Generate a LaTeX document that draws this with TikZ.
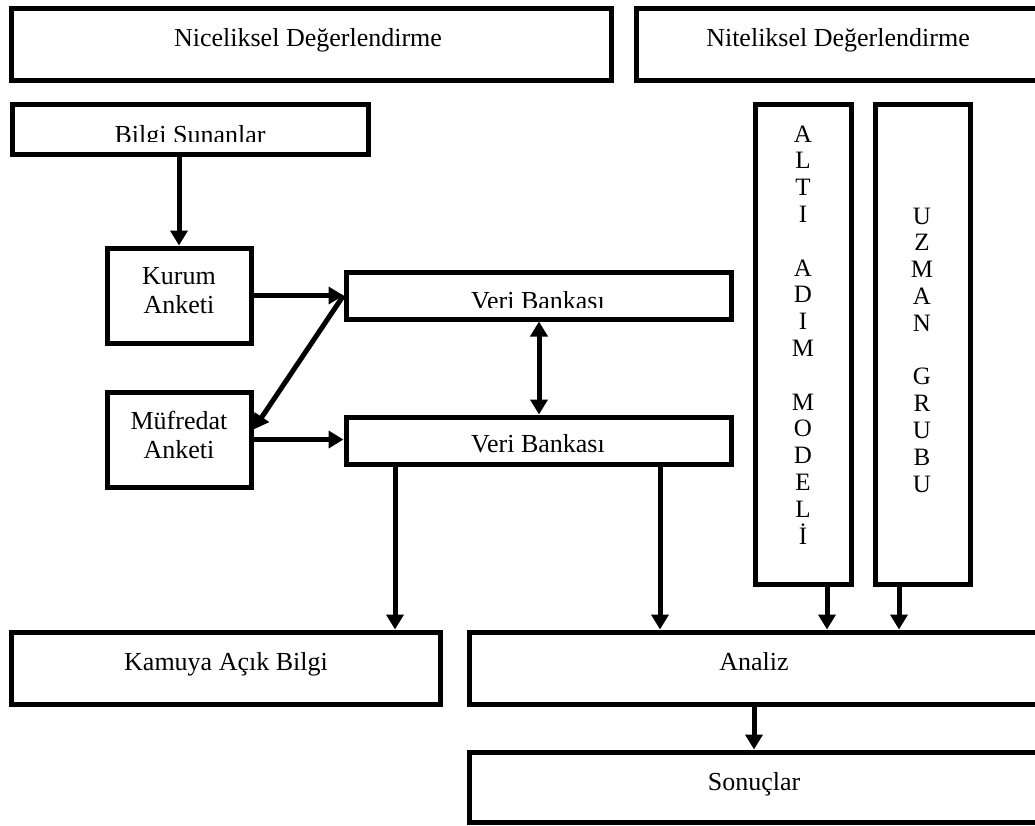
\documentclass[tikz,border=0pt]{standalone}
\usepackage{fontspec}
\setmainfont{Liberation Serif}
\usetikzlibrary{arrows.meta}
\tikzset{
  box/.style={draw=black, line width=5pt, inner sep=0pt, fill=none},
  txt/.style={inner sep=0pt, anchor=base, align=center, font=\fontsize{26pt}{29pt}\selectfont},
  vtxt/.style={inner sep=0pt, anchor=base, align=center, font=\fontsize{25pt}{26.8pt}\selectfont},
  arr/.style={line width=5pt, -{Triangle[length=15pt,width=17pt]}},
  darr/.style={line width=5pt, {Triangle[length=15pt,width=17pt]}-{Triangle[length=15pt,width=17pt]}}
}
\begin{document}
\begin{tikzpicture}[x=1pt,y=-1pt]
\useasboundingbox (0,0) rectangle (1035,825);
\clip (0,0) rectangle (1035,825);
\fill[white] (0,0) rectangle (1035,825);
% boxes
\node[box, minimum width=600pt, minimum height=72pt] (nic) at (311,44) {};
\node[box, minimum width=414pt, minimum height=72pt] (nit) at (843,44) {};
\node[box, minimum width=356pt, minimum height=50pt] (bilgi) at (190,129) {};
\node[box, minimum width=144pt, minimum height=95pt] (kurum) at (179,295.5) {};
\node[box, minimum width=144pt, minimum height=95pt] (muf) at (179,439.5) {};
\node[box, minimum width=385pt, minimum height=47pt] (vb1) at (538.5,295.5) {};
\node[box, minimum width=385pt, minimum height=47pt] (vb2) at (538.5,440.5) {};
\node[box, minimum width=96pt, minimum height=480pt] (alti) at (803,344) {};
\node[box, minimum width=95pt, minimum height=480pt] (uzman) at (922.5,344) {};
\node[box, minimum width=429pt, minimum height=72pt] (kam) at (225.5,668) {};
\node[box, minimum width=581pt, minimum height=72pt] (analiz) at (759.5,668) {};
\node[box, minimum width=581pt, minimum height=70pt] (sonuc) at (759.5,787) {};
% texts (anchor=base of a multi-line node is the baseline of its last line)
\node[txt] (tnic) at (308,46) {Niceliksel Değerlendirme};
\node[txt] (tnit) at (838,46) {Niteliksel Değerlendirme};
\begin{scope}
  \clip (14,106) rectangle (366,141);
  \node[txt] (tbilgi) at (190,143) {Bilgi Sunanlar};
\end{scope}
\node[txt] (tkurum) at (179,313) {Kurum\\Anketi};
\node[txt] (tmuf) at (179,458) {Müfredat\\Anketi};
\begin{scope}
  \clip (348,274) rectangle (729,307);
  \node[txt] (tvb1) at (538,309) {Veri Bankası};
\end{scope}
\node[txt] (tvb2) at (538,452) {Veri Bankası};
\node[vtxt] (talti) at (803,544) {A\\L\\T\\I\\\mbox{}\\A\\D\\I\\M\\\mbox{}\\M\\O\\D\\E\\L\\İ};
\node[vtxt] (tuzman) at (922,492) {U\\Z\\M\\A\\N\\\mbox{}\\G\\R\\U\\B\\U};
\node[txt] (tkam) at (226,670) {Kamuya Açık Bilgi};
\node[txt] (tanaliz) at (754,670) {Analiz};
\node[txt] (tsonuc) at (754,790) {Sonuçlar};
% connectors
\draw[arr] (bilgi.south -| kurum.north) -- (kurum.north);
\draw[arr] (kurum.east) -- (kurum.east -| vb1.west);
\draw[arr] (vb1.west) -- ([yshift=10pt]muf.east);
\draw[arr] (muf.east) -- (muf.east -| vb2.west);
\draw[darr] (vb1.south -| 539,0) -- (vb2.north -| 539,0);
\draw[arr] (vb2.south -| 395,0) -- (kam.north -| 395,0);
\draw[arr] (vb2.south -| 660,0) -- (analiz.north -| 660,0);
\draw[arr] (alti.south -| 827,0) -- (analiz.north -| 827,0);
\draw[arr] (uzman.south -| 899,0) -- (analiz.north -| 899,0);
\draw[arr] (analiz.south -| 754,0) -- (sonuc.north -| 754,0);
\end{tikzpicture}
\end{document}
